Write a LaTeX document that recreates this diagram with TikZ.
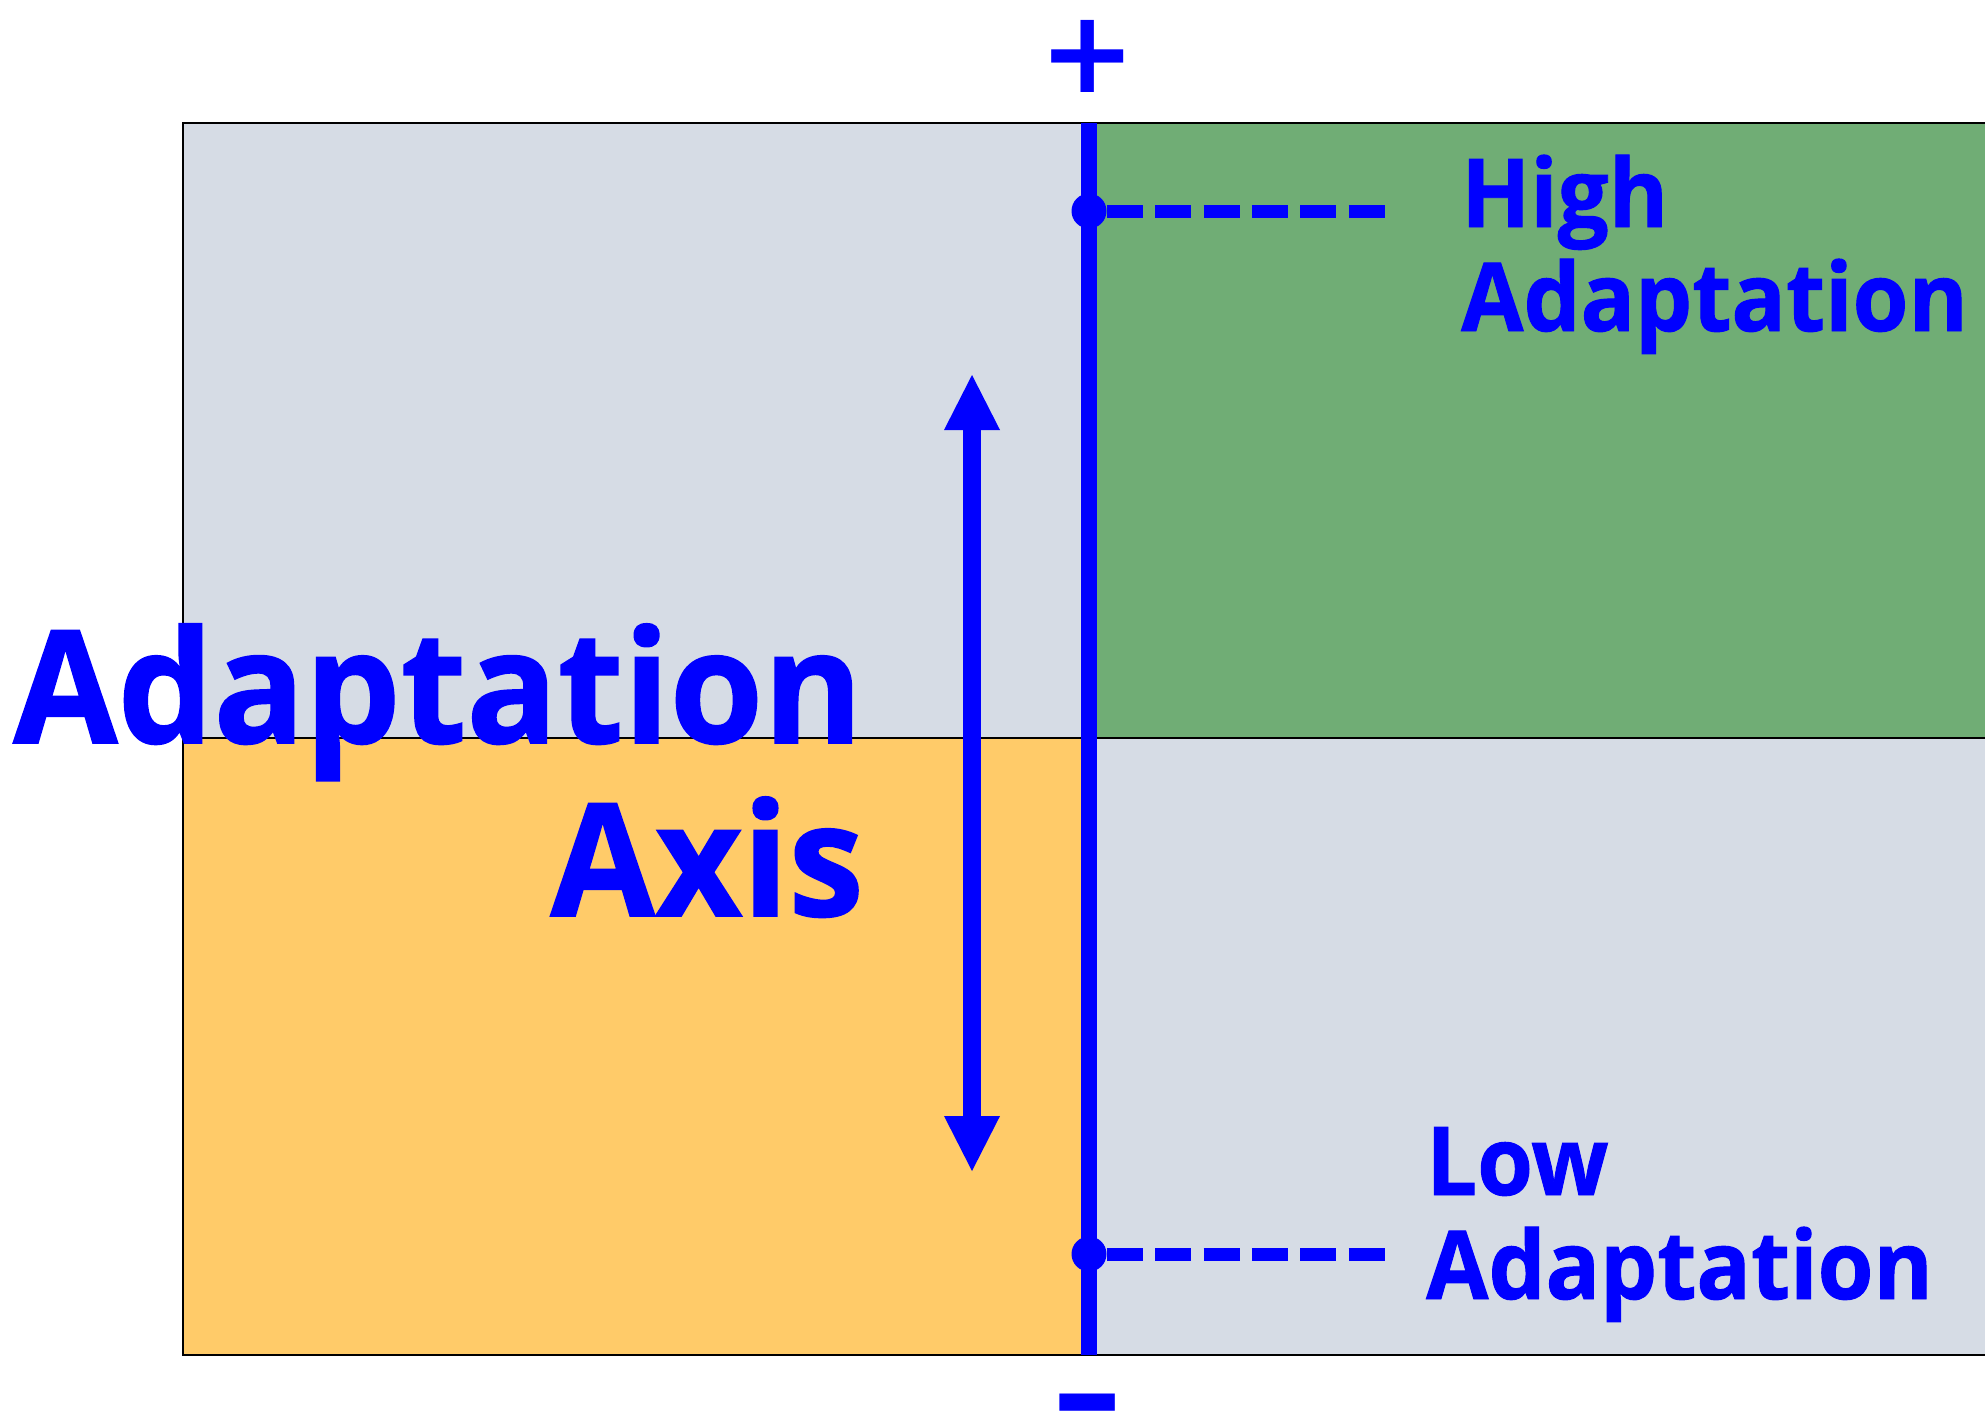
\documentclass[tikz,border=0pt]{standalone}
\usepackage{fontspec}
\usetikzlibrary{arrows.meta}
\newfontfamily\lblfont{Open Sans}[FakeStretch=0.95,FakeBold=1]
\newfontfamily\bigfont{Open Sans}[FakeStretch=0.964,FakeBold=1]
\newfontfamily\symfont{DejaVu Sans}
\definecolor{qgrey}{HTML}{D6DCE5}
\definecolor{qgreen}{HTML}{70AD75}
\definecolor{qorange}{HTML}{FFCB69}
\definecolor{axisblue}{HTML}{0000FF}
\tikzset{
  quad/.style={draw=black, line width=2.5pt},
  lbl/.style={text=axisblue, inner sep=0pt, font=\lblfont\bfseries\fontsize{95}{104}\selectfont, align=left},
  biglbl/.style={text=axisblue, inner sep=0pt, font=\bigfont\bfseries\fontsize{157}{173}\selectfont},
  sym/.style={text=axisblue, inner sep=0pt, font=\symfont\bfseries\fontsize{115}{120}\selectfont},
  axisline/.style={draw=axisblue, line width=16pt},
  marker/.style={circle, fill=axisblue, minimum size=35pt, inner sep=0pt},
  leader/.style={draw=axisblue, line width=13pt, dash pattern=on 36pt off 12.4pt},
  dblarrow/.style={draw=axisblue, line width=18pt, {Triangle[length=55pt,width=56pt,line width=0pt]}-{Triangle[length=55pt,width=56pt,line width=0pt]}}
}
\begin{document}
\begin{tikzpicture}[x=1pt,y=-1pt]
\useasboundingbox (0,0) rectangle (1985,1411);
% quadrants
\fill[qgrey] (183,123) rectangle (1089,738);
\fill[qgreen] (1089,123) rectangle (2000,738);
\fill[qorange] (183,738) rectangle (1089,1355);
\fill[qgrey] (1089,738) rectangle (2000,1355);
\draw[quad] (2000,123) -- (183,123) -- (183,1355) -- (2000,1355);
\draw[quad] (183,738) -- (2000,738);
% axis
\coordinate (axtop) at (1089,123);
\coordinate (axbot) at (1089,1355);
\draw[axisline] (axtop) -- (axbot);
\node[sym] (plus) at (1087.5,56) {+};
\node[sym] (minus) at (1087.5,1422) {\scalebox{0.77}[1.3]{−}};
% markers
\node[marker] (hidot) at (1089,211) {};
\node[marker] (lodot) at (1089,1254) {};
\coordinate (hiend) at (1385,211);
\coordinate (loend) at (1385,1254);
\draw[leader] (hidot.east) -- (hiend);
\draw[leader] (lodot.east) -- (loend);
% labels
\node[lbl, anchor=base west] (hilbl) at (1461,331) {High\\Adaptation};
\node[lbl, anchor=base west] (lolbl) at (1426,1299) {Low\\Adaptation};
% double arrow
\coordinate (artop) at (972,375);
\coordinate (arbot) at (972,1171);
\draw[dblarrow] (artop) -- (arbot);
% big title
\node[biglbl, anchor=base east] (title1) at (863,743) {Adaptation};
\node[biglbl, anchor=base east] (title2) at (864,916) {Axis};
\end{tikzpicture}
\end{document}
